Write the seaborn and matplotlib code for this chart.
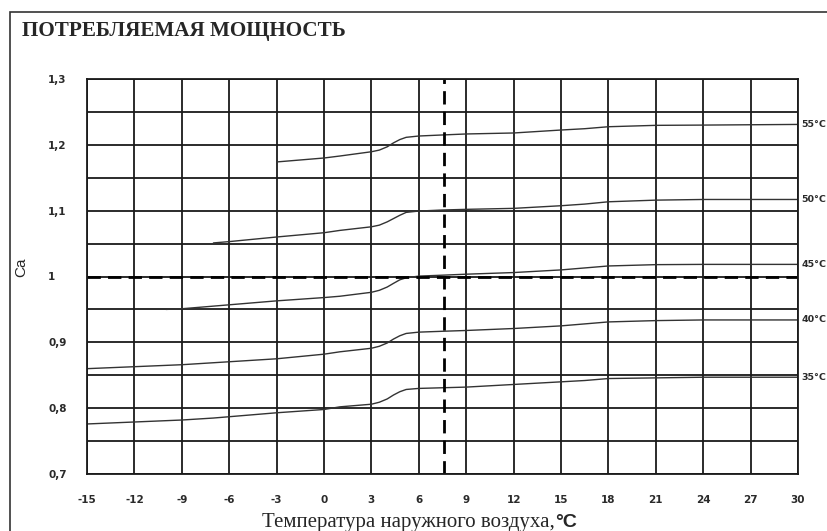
import numpy as np
import pandas as pd
import matplotlib
matplotlib.use("Agg")
import matplotlib.pyplot as plt
import matplotlib.patches as mpatches
import matplotlib.transforms as mtransforms
import seaborn as sns

# ---- data ----
temps = [-15, -12, -10, -9, -7, -6, -3, 0, 1, 3, 3.5, 4, 4.4, 4.8, 5.2, 6, 7.5, 9,
         12, 15, 16.5, 18, 21, 24, 27, 30]
N = None
ca_55 = [N, N, N, N, N, N, 1.174, 1.180, 1.183, 1.1895, 1.192, 1.197, 1.203, 1.208,
         1.2114, 1.2134, 1.215, 1.2165, 1.218, 1.2225, 1.2245, 1.2275, 1.2296, 1.230,
         1.2305, 1.231]
ca_50 = [N, N, N, N, 1.051, 1.053, 1.060, 1.0665, 1.070, 1.0755, 1.078, 1.083, 1.088,
         1.093, 1.0974, 1.0994, 1.101, 1.102, 1.1035, 1.1075, 1.110, 1.1135, 1.116,
         1.117, 1.117, 1.117]
ca_45 = [N, N, 0.950, 0.951, 0.955, 0.957, 0.963, 0.968, 0.970, 0.976, 0.979, 0.984,
         0.9896, 0.995, 0.998, 1.0006, 1.002, 1.0035, 1.006, 1.010, 1.013, 1.016,
         1.018, 1.0184, 1.0184, 1.0184]
ca_40 = [0.860, 0.863, 0.865, 0.866, 0.869, 0.8705, 0.875, 0.882, 0.8856, 0.891, 0.894,
         0.899, 0.905, 0.910, 0.9135, 0.9155, 0.9168, 0.918, 0.921, 0.925, 0.928,
         0.931, 0.933, 0.934, 0.934, 0.934]
ca_35 = [0.776, 0.779, 0.781, 0.782, 0.785, 0.787, 0.793, 0.798, 0.802, 0.806, 0.809,
         0.814, 0.820, 0.825, 0.8284, 0.830, 0.831, 0.832, 0.836, 0.840, 0.842, 0.845,
         0.846, 0.847, 0.847, 0.847]
series_labels = ["55°C", "50°C", "45°C", "40°C", "35°C"]
series_values = [ca_55, ca_50, ca_45, ca_40, ca_35]

xticks = [-15, -12, -9, -6, -3, 0, 3, 6, 9, 12, 15, 18, 21, 24, 27, 30]
yticks = [0.7, 0.8, 0.9, 1.0, 1.1, 1.2, 1.3]
ytick_labels = ["0,7", "0,8", "0,9", "1", "1,1", "1,2", "1,3"]
design_temp = 7.6
design_ca = 1.0

title = "ПОТРЕБЛЯЕМАЯ МОЩНОСТЬ"
xlabel_main = "Температура наружного воздуха,"
xlabel_unit = "°C"
ylabel = "Ca"

# ---- frame ----
rows = []
for lab, vals in zip(series_labels, series_values):
    for t, v in zip(temps, vals):
        rows.append({"t": t, "ca": v, "s": lab})
df = pd.DataFrame(rows).dropna()

sns.set_style("white")
plt.rcParams["font.family"] = ["Liberation Sans", "DejaVu Sans"]

W, H = 827, 531
fig = plt.figure(figsize=(W / 100, H / 100), dpi=100)
ax = fig.add_axes([87 / W, 1 - 474 / H, (798 - 87) / W, (474 - 79) / H])

sns.lineplot(data=df, x="t", y="ca", hue="s", palette=["#333333"] * 5,
             legend=False, ax=ax, linewidth=1.0, estimator=None, sort=True)

ax.set_xlim(-15, 30)
ax.set_ylim(0.7, 1.3)
ax.set_xticks(xticks)
ax.set_xticklabels([str(v) for v in xticks])
ax.set_yticks(yticks)
ax.set_yticklabels(ytick_labels)
ax.set_yticks(np.arange(0.75, 1.3, 0.1), minor=True)
ax.grid(True, which="both", color="#1a1a1a", linewidth=1.3)
ax.set_axisbelow(True)
for sp in ax.spines.values():
    sp.set_color("#1a1a1a")
    sp.set_linewidth(1.3)
ax.tick_params(axis="both", which="both", length=0)
ax.tick_params(axis="x", pad=15)
ax.tick_params(axis="y", pad=28)
for lbl in ax.get_xticklabels() + ax.get_yticklabels():
    lbl.set_fontfamily("DejaVu Sans")
    lbl.set_fontweight("bold")
    lbl.set_fontsize(7.5)
    lbl.set_color("#2a2a2a")
for lbl in ax.get_yticklabels():
    lbl.set_horizontalalignment("left")
ax.set_xlabel("")
ax.set_ylabel("")

# design point dashed lines
ax.axvline(design_temp, color="black", linewidth=2.0, linestyle=(0, (4.8, 2.6)))
ax.axhline(design_ca, color="black", linewidth=2.0, linestyle=(0, (4.8, 2.6)))

# right side labels
trans = mtransforms.blended_transform_factory(ax.transAxes, ax.transData)
for lab, vals in zip(series_labels, series_values):
    ax.text(1.005, vals[-1], lab, transform=trans, ha="left", va="center",
            fontsize=6.8, fontfamily="DejaVu Sans", fontweight="bold",
            color="#2a2a2a", clip_on=False)

# texts
fig.text(22 / W, 1 - 36 / H, title, ha="left", va="baseline",
         fontsize=15.2, fontfamily="Liberation Serif", fontweight="bold")
fig.text(21 / W, 1 - 267 / H, ylabel, rotation=90, ha="center", va="center",
         fontsize=11, fontfamily="Liberation Sans")
fig.text(555 / W, 1 - 527 / H, xlabel_main, ha="right", va="baseline",
         fontsize=15, fontfamily="Liberation Serif")
fig.text(555 / W, 1 - 527 / H, xlabel_unit, ha="left", va="baseline",
         fontsize=14, fontfamily="Liberation Sans", fontweight="bold")

# outer border
fig.patches.append(mpatches.Rectangle((10 / W, -0.1), 1.2, 1.1 - 12 / H,
                                      transform=fig.transFigure, fill=False,
                                      edgecolor="#333333", linewidth=1.2))

fig.savefig("out.png", dpi=100)
